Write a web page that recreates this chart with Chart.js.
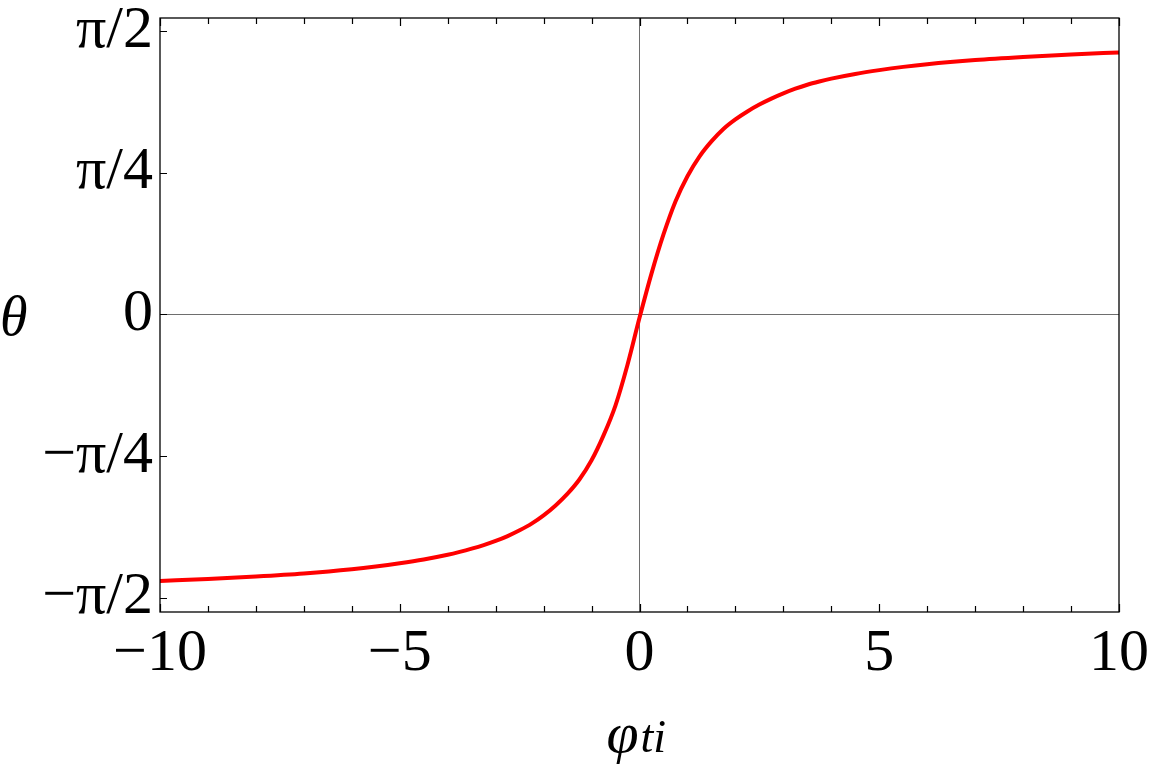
<!DOCTYPE html>
<html><head><meta charset="utf-8">
<script src="https://cdn.jsdelivr.net/npm/chart.js@4.4.1/dist/chart.umd.min.js"></script>
<style>html,body{margin:0;padding:0;background:#fff;} #wrap{width:1152px;height:768px;}</style>
</head><body><div id="wrap"><canvas id="c" width="1152" height="768"></canvas></div>
<script>
// ---- data ----
const phiValues   = [-10, -9, -8, -7, -6, -5.5, -5, -4.5, -4, -3.75, -3.5, -3.25, -3, -2.75, -2.5, -2.25, -2, -1.75, -1.5, -1.25, -1, -0.75, -0.5, -0.25, 0, 0.25, 0.5, 0.75, 1, 1.25, 1.5, 1.75, 2, 2.25, 2.5, 2.75, 3, 3.25, 3.5, 3.75, 4, 4.5, 5, 5.5, 6, 7, 8, 9, 10];
const thetaValues = [-1.479, -1.468, -1.454, -1.437, -1.414, -1.399, -1.381, -1.360, -1.334, -1.318, -1.300, -1.280, -1.257, -1.230, -1.198, -1.161, -1.115, -1.060, -0.995, -0.915, -0.810, -0.672, -0.505, -0.280, -0.020, 0.225, 0.442, 0.625, 0.765, 0.874, 0.958, 1.027, 1.080, 1.124, 1.162, 1.195, 1.224, 1.250, 1.272, 1.290, 1.306, 1.332, 1.353, 1.371, 1.386, 1.409, 1.426, 1.440, 1.451];
const xMajorTicks = [-10, -5, 0, 5, 10];
const xTickLabels = ['−10', '−5', '0', '5', '10'];
const xMinorTicks = [-9, -8, -7, -6, -4, -3, -2, -1, 1, 2, 3, 4, 6, 7, 8, 9];
const yTickValues = [-Math.PI / 2, -Math.PI / 4, 0, Math.PI / 4, Math.PI / 2];
const yTickLabels = ['−π/2', '−π/4', '0', 'π/4', 'π/2'];
const xRange = [-10, 10];
const yRange = [-1.651, 1.642];
const xTitle = 'φ', xTitleSub = 'ti', yTitle = 'θ';

const SERIF = '"Liberation Serif", "DejaVu Serif", serif';

const framePlugin = {
  id: 'frame',
  afterDatasetsDraw(chart) {
    const { ctx, chartArea: a, scales: { x, y } } = chart;
    ctx.save();
    ctx.strokeStyle = '#000';
    ctx.lineWidth = 1.3;
    ctx.strokeRect(a.left, a.top, a.right - a.left, a.bottom - a.top);
    ctx.lineWidth = 1.2;
    ctx.beginPath();
    for (const v of xMajorTicks) {
      const px = Math.round(x.getPixelForValue(v)) + 0.5;
      ctx.moveTo(px, a.bottom); ctx.lineTo(px, a.bottom - 8);
      ctx.moveTo(px, a.top); ctx.lineTo(px, a.top + 8);
    }
    for (const v of xMinorTicks) {
      const px = Math.round(x.getPixelForValue(v)) + 0.5;
      ctx.moveTo(px, a.bottom); ctx.lineTo(px, a.bottom - 6);
      ctx.moveTo(px, a.top); ctx.lineTo(px, a.top + 6);
    }
    for (const v of yTickValues) {
      const py = Math.round(y.getPixelForValue(v)) + 0.5;
      ctx.moveTo(a.left, py); ctx.lineTo(a.left + 7, py);
    }
    ctx.stroke();
    ctx.restore();
  },
  afterDraw(chart) {
    const { ctx, chartArea: a } = chart;
    ctx.save();
    ctx.fillStyle = '#000';
    ctx.textBaseline = 'alphabetic';
    ctx.textAlign = 'left';
    ctx.font = 'italic 56px ' + SERIF;
    ctx.fillText(yTitle, 0, 335);
    const cx = (a.left + a.right) / 2;
    ctx.font = 'italic 58px ' + SERIF;
    ctx.fillText(xTitle, cx - 33, 752);
    ctx.font = 'italic 46px ' + SERIF;
    ctx.fillText(xTitleSub, cx + 1, 752);
    ctx.restore();
  }
};

const pts = phiValues.map((p, i) => ({ x: p, y: thetaValues[i] }));

new Chart(document.getElementById('c'), {
  type: 'scatter',
  data: {
    datasets: [{
      data: pts,
      showLine: true,
      borderColor: '#ff0000',
      borderWidth: 4,
      pointRadius: 0,
      cubicInterpolationMode: 'monotone',
      fill: false
    }]
  },
  options: {
    responsive: false,
    animation: false,
    devicePixelRatio: 1,
    layout: { padding: { top: 18, right: 33, left: 0, bottom: 0 } },
    plugins: { legend: { display: false }, tooltip: { enabled: false } },
    scales: {
      x: {
        type: 'linear',
        min: xRange[0], max: xRange[1],
        afterBuildTicks(s) { s.ticks = xMajorTicks.map(v => ({ value: v })); },
        afterFit(s) { s.height = 156; s.paddingLeft = 0; s.paddingRight = 0; },
        border: { display: false },
        grid: {
          drawTicks: false,
          lineWidth: 1,
          color: c => (c.tick && c.tick.value === 0) ? '#6e6e6e' : 'rgba(0,0,0,0)'
        },
        ticks: {
          autoSkip: false,
          maxRotation: 0,
          padding: 6,
          color: '#000',
          font: { family: SERIF, size: 60 },
          callback: (v, i) => xTickLabels[i]
        }
      },
      y: {
        type: 'linear',
        min: yRange[0], max: yRange[1],
        afterBuildTicks(s) { s.ticks = yTickValues.map(v => ({ value: v })); },
        afterFit(s) { s.width = 160; s.paddingTop = 0; s.paddingBottom = 0; },
        border: { display: false },
        grid: {
          drawTicks: false,
          lineWidth: 1,
          color: c => (c.tick && c.tick.value === 0) ? '#6e6e6e' : 'rgba(0,0,0,0)'
        },
        ticks: {
          autoSkip: false,
          padding: 7,
          color: '#000',
          font: { family: SERIF, size: 60 },
          callback: (v, i) => yTickLabels[i]
        }
      }
    }
  },
  plugins: [framePlugin]
});
</script>
</body></html>
